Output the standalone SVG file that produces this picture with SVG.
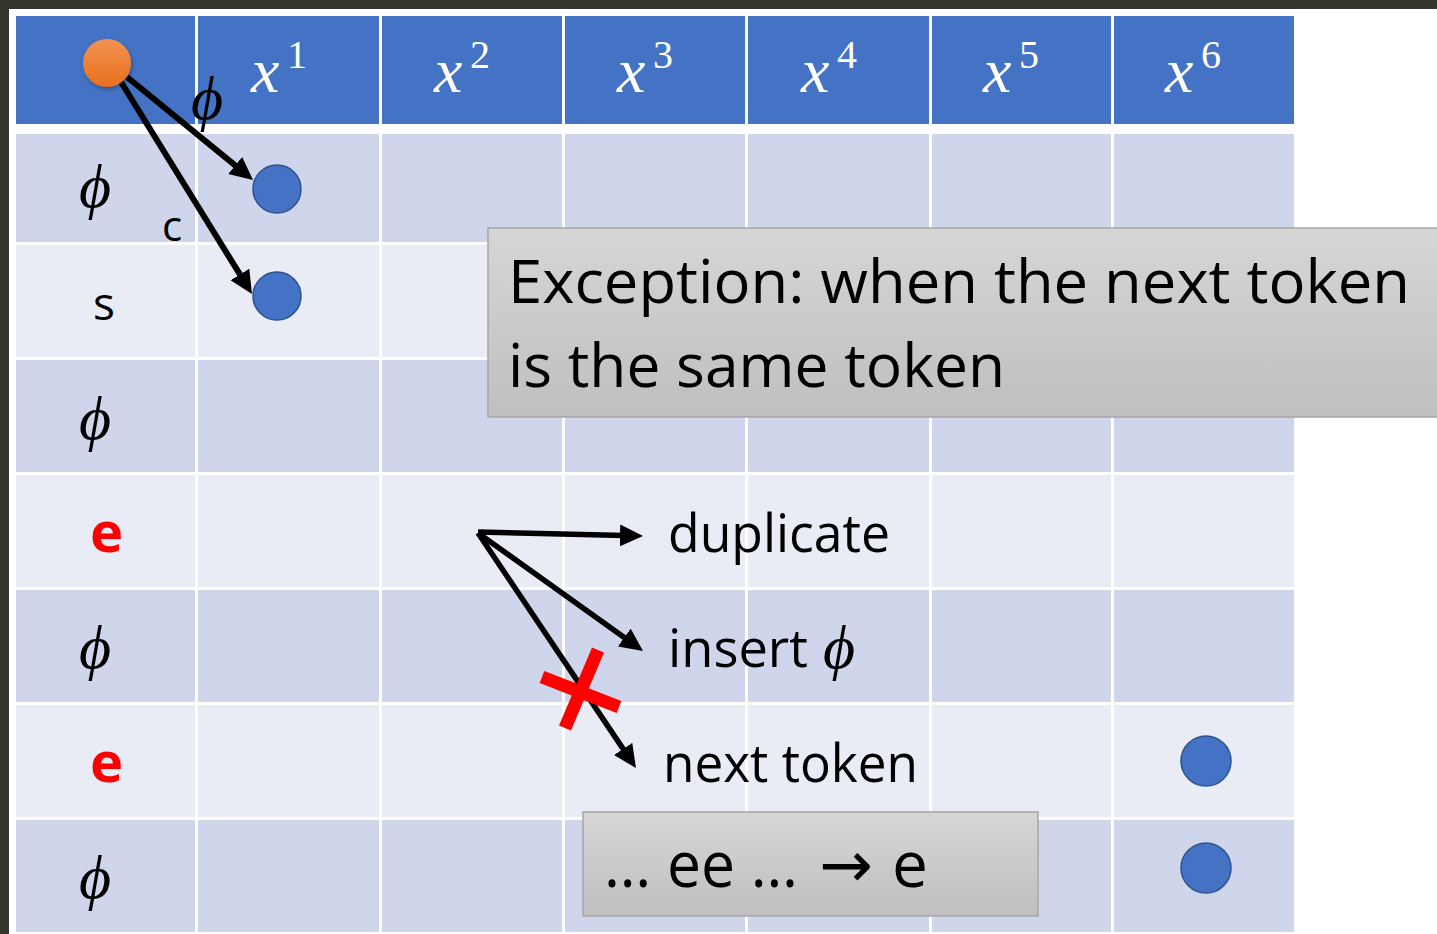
<svg xmlns="http://www.w3.org/2000/svg" width="1437" height="934" viewBox="0 0 1437 934">
  <defs>
    <style>
      .hdr { fill: #4472C4; }
      .rowA { fill: #CFD5EA; }
      .rowB { fill: #E9EBF5; }
      .math { font-family: "Liberation Serif", "DejaVu Serif", serif; font-style: italic; }
      .hx { fill: #ffffff; font-size: 64px; }
      .hs { fill: #ffffff; font-size: 40px; font-family: "Liberation Serif", "DejaVu Serif", serif; }
      .phi { fill: #000000; font-size: 62px; }
      .sans { font-family: "Open Sans", "Liberation Sans", sans-serif; fill: #000000; }
      .red { font-family: "Open Sans", "Liberation Sans", sans-serif; fill: #FF0000; font-weight: bold; font-size: 56px; }
      .dot { fill: #4472C4; stroke: #2F528F; stroke-width: 1.5; }
      .conn { stroke: #000000; fill: none; stroke-linecap: butt; }
      .cross { stroke: #FF0000; stroke-width: 13; fill: none; }
      .box { fill: url(#boxGrad); stroke: #A6A6A6; stroke-width: 1.5; }
    </style>
    <linearGradient id="boxGrad" x1="0" y1="0" x2="0" y2="1">
      <stop offset="0" stop-color="#D6D6D6"/>
      <stop offset="1" stop-color="#BFBFBF"/>
    </linearGradient>
    <linearGradient id="orangeGrad" x1="0" y1="0" x2="0" y2="1">
      <stop offset="0" stop-color="#F39250"/>
      <stop offset="1" stop-color="#E8701E"/>
    </linearGradient>
    <filter id="soft" x="-30%" y="-30%" width="160%" height="160%">
      <feDropShadow dx="1" dy="2" stdDeviation="2" flood-color="#000000" flood-opacity="0.3"/>
    </filter>
    <marker id="head" markerUnits="userSpaceOnUse" markerWidth="24" markerHeight="24" refX="15" refY="11" orient="auto">
      <path d="M0,0 L23,11 L0,22 z" fill="#000000"/>
    </marker>
  </defs>

  <!-- page frame -->
  <rect x="0" y="0" width="1437" height="934" fill="#35352D"/>
  <rect x="9" y="9" width="1428" height="925" fill="#FFFFFF"/>

  <!-- table: header row -->
  <g id="header">
    <rect class="hdr" x="16" y="16" width="179" height="108"/>
    <rect class="hdr" x="198" y="16" width="181" height="108"/>
    <rect class="hdr" x="382" y="16" width="180" height="108"/>
    <rect class="hdr" x="565" y="16" width="180" height="108"/>
    <rect class="hdr" x="748" y="16" width="181" height="108"/>
    <rect class="hdr" x="932" y="16" width="179" height="108"/>
    <rect class="hdr" x="1114" y="16" width="180" height="108"/>
    <text class="math hx" x="251" y="92">x</text><text class="hs" x="287" y="68">1</text>
    <text class="math hx" x="434" y="92">x</text><text class="hs" x="470" y="68">2</text>
    <text class="math hx" x="617" y="92">x</text><text class="hs" x="653" y="68">3</text>
    <text class="math hx" x="801" y="92">x</text><text class="hs" x="837" y="68">4</text>
    <text class="math hx" x="983" y="92">x</text><text class="hs" x="1019" y="68">5</text>
    <text class="math hx" x="1165" y="92">x</text><text class="hs" x="1201" y="68">6</text>
  </g>

  <!-- table body: alternating row bands -->
  <g id="rows">
    <g id="row1">
      <rect class="rowA" x="16" y="134" width="179" height="108"/>
      <rect class="rowA" x="198" y="134" width="181" height="108"/>
      <rect class="rowA" x="382" y="134" width="180" height="108"/>
      <rect class="rowA" x="565" y="134" width="180" height="108"/>
      <rect class="rowA" x="748" y="134" width="181" height="108"/>
      <rect class="rowA" x="932" y="134" width="179" height="108"/>
      <rect class="rowA" x="1114" y="134" width="180" height="108"/>
      <text class="math phi" x="79" y="207">ϕ</text>
    </g>
    <g id="row2">
      <rect class="rowB" x="16" y="245" width="179" height="112"/>
      <rect class="rowB" x="198" y="245" width="181" height="112"/>
      <rect class="rowB" x="382" y="245" width="180" height="112"/>
      <rect class="rowB" x="565" y="245" width="180" height="112"/>
      <rect class="rowB" x="748" y="245" width="181" height="112"/>
      <rect class="rowB" x="932" y="245" width="179" height="112"/>
      <rect class="rowB" x="1114" y="245" width="180" height="112"/>
      <text class="sans" x="93" y="320" font-size="46">s</text>
    </g>
    <g id="row3">
      <rect class="rowA" x="16" y="360" width="179" height="112"/>
      <rect class="rowA" x="198" y="360" width="181" height="112"/>
      <rect class="rowA" x="382" y="360" width="180" height="112"/>
      <rect class="rowA" x="565" y="360" width="180" height="112"/>
      <rect class="rowA" x="748" y="360" width="181" height="112"/>
      <rect class="rowA" x="932" y="360" width="179" height="112"/>
      <rect class="rowA" x="1114" y="360" width="180" height="112"/>
      <text class="math phi" x="79" y="439">ϕ</text>
    </g>
    <g id="row4">
      <rect class="rowB" x="16" y="475" width="179" height="112"/>
      <rect class="rowB" x="198" y="475" width="181" height="112"/>
      <rect class="rowB" x="382" y="475" width="180" height="112"/>
      <rect class="rowB" x="565" y="475" width="180" height="112"/>
      <rect class="rowB" x="748" y="475" width="181" height="112"/>
      <rect class="rowB" x="932" y="475" width="179" height="112"/>
      <rect class="rowB" x="1114" y="475" width="180" height="112"/>
      <text class="red" x="90" y="552">e</text>
    </g>
    <g id="row5">
      <rect class="rowA" x="16" y="590" width="179" height="112"/>
      <rect class="rowA" x="198" y="590" width="181" height="112"/>
      <rect class="rowA" x="382" y="590" width="180" height="112"/>
      <rect class="rowA" x="565" y="590" width="180" height="112"/>
      <rect class="rowA" x="748" y="590" width="181" height="112"/>
      <rect class="rowA" x="932" y="590" width="179" height="112"/>
      <rect class="rowA" x="1114" y="590" width="180" height="112"/>
      <text class="math phi" x="79" y="668">ϕ</text>
    </g>
    <g id="row6">
      <rect class="rowB" x="16" y="705" width="179" height="112"/>
      <rect class="rowB" x="198" y="705" width="181" height="112"/>
      <rect class="rowB" x="382" y="705" width="180" height="112"/>
      <rect class="rowB" x="565" y="705" width="180" height="112"/>
      <rect class="rowB" x="748" y="705" width="181" height="112"/>
      <rect class="rowB" x="932" y="705" width="179" height="112"/>
      <rect class="rowB" x="1114" y="705" width="180" height="112"/>
      <text class="red" x="90" y="782">e</text>
    </g>
    <g id="row7">
      <rect class="rowA" x="16" y="820" width="179" height="112"/>
      <rect class="rowA" x="198" y="820" width="181" height="112"/>
      <rect class="rowA" x="382" y="820" width="180" height="112"/>
      <rect class="rowA" x="565" y="820" width="180" height="112"/>
      <rect class="rowA" x="748" y="820" width="181" height="112"/>
      <rect class="rowA" x="932" y="820" width="179" height="112"/>
      <rect class="rowA" x="1114" y="820" width="180" height="112"/>
      <text class="math phi" x="79" y="898">ϕ</text>
    </g>
  </g>

  <!-- connectors -->
  <g id="connectors">
    <line class="conn" stroke-width="6" x1="127" y1="77" x2="246.8" y2="174.9" marker-end="url(#head)"/>
    <line class="conn" stroke-width="6" x1="121" y1="82" x2="247.8" y2="287.2" marker-end="url(#head)"/>
    <line class="conn" stroke-width="5.5" x1="478" y1="532" x2="635" y2="535.8" marker-end="url(#head)"/>
    <line class="conn" stroke-width="5.5" x1="478" y1="533" x2="636.5" y2="646.3" marker-end="url(#head)"/>
    <line class="conn" stroke-width="5.5" x1="478" y1="533" x2="631.5" y2="761.4" marker-end="url(#head)"/>
    <text class="math phi" x="191" y="119">ϕ</text>
    <text class="sans" x="162" y="241" font-size="42">c</text>
  </g>

  <!-- start node -->
  <g id="start">
    <circle cx="107" cy="63" r="24" fill="url(#orangeGrad)" filter="url(#soft)"/>
  </g>

  <!-- path nodes -->
  <g id="n-1-1"><circle class="dot" cx="277" cy="189" r="24"/></g>
  <g id="n-2-1"><circle class="dot" cx="277" cy="296" r="24"/></g>
  <g id="n-6-6"><circle class="dot" cx="1206" cy="761" r="25"/></g>
  <g id="n-7-6"><circle class="dot" cx="1206" cy="868" r="25"/></g>

  <!-- rule note -->
  <g id="exception">
    <rect class="box" x="488" y="228" width="960" height="189"/>
    <text class="sans" x="508" y="303" font-size="61" textLength="902" lengthAdjust="spacingAndGlyphs">Exception: when the next token</text>
    <text class="sans" x="508" y="387" font-size="61" textLength="497" lengthAdjust="spacingAndGlyphs">is the same token</text>
  </g>

  <!-- options after a repeated token -->
  <g id="options">
    <text class="sans" x="668" y="552" font-size="53" textLength="222" lengthAdjust="spacingAndGlyphs">duplicate</text>
    <text class="sans" x="668" y="667" font-size="53" textLength="140" lengthAdjust="spacingAndGlyphs">insert</text>
    <text class="math phi" x="823" y="668">ϕ</text>
    <text class="sans" x="663" y="782" font-size="53" textLength="255" lengthAdjust="spacingAndGlyphs">next token</text>
  </g>

  <!-- rejected option -->
  <g id="reject">
    <line class="cross" x1="598" y1="650" x2="565" y2="728"/>
    <line class="cross" x1="542" y1="677" x2="619" y2="707"/>
  </g>

  <!-- collapse rule -->
  <g id="collapse">
    <rect class="box" x="583" y="812" width="455" height="104"/>
    <text class="sans" x="604" y="887" font-size="64" textLength="194" lengthAdjust="spacingAndGlyphs">… ee …</text>
    <text x="819" y="887" font-size="64" font-family="DejaVu Sans, sans-serif" fill="#000000">→</text>
    <text class="sans" x="892" y="887" font-size="64">e</text>
  </g>
</svg>
